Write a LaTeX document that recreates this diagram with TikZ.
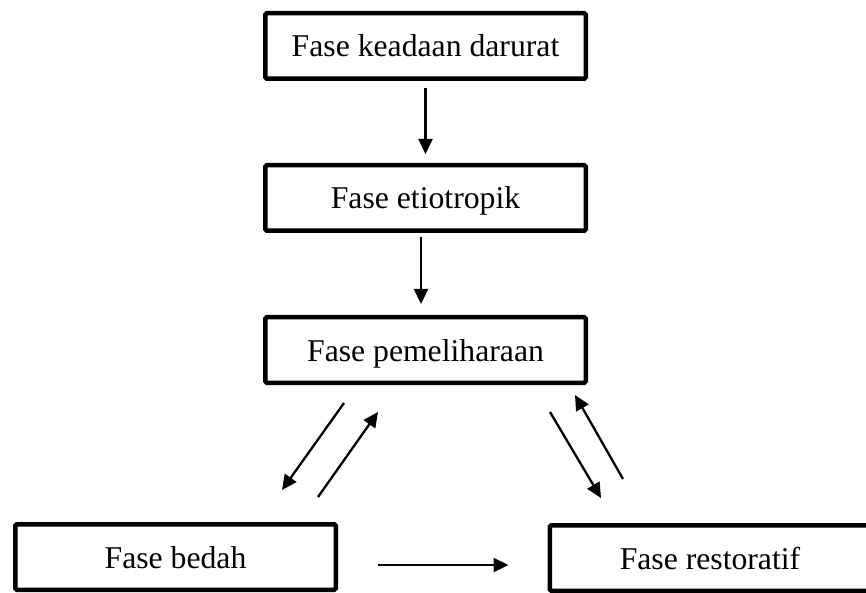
\documentclass[tikz,border=0pt]{standalone}
\usepackage{fontspec}
\setmainfont{Liberation Serif}
\usetikzlibrary{arrows.meta,positioning}

\begin{document}
\begin{tikzpicture}[
  x=1pt, y=1pt,
  node distance=82pt,
  box/.style={rectangle, draw, line width=4.5pt, rounded corners=1.5pt, align=center, minimum width=320.5pt, minimum height=65.5pt, font=\fontsize{31.7}{38}\selectfont, text height=24pt, text depth=2pt},
  arr/.style={-{Triangle[length=15pt,width=14pt]}, line width=2.3pt}
]
\useasboundingbox (0,0) rectangle (866,592);
\clip (0,0) rectangle (866,592);

\node[box] (darurat) at (425.5,546) {Fase keadaan darurat};
\node[box, below=of darurat] (etio) {Fase etiotropik};
\node[box, below=of etio] (pem) {Fase pemeliharaan};
\node[box] (bedah) at (175.5,35) {Fase bedah};
\node[box] (restoratif) at (710,34) {Fase restoratif};

% ends of the paired diagonal arrows
\coordinate (pl1) at (344,189); \coordinate (pl2) at (282,102);
\coordinate (pl3) at (318,95);  \coordinate (pl4) at (378,180);
\coordinate (pr1) at (550,180); \coordinate (pr2) at (601,94);
\coordinate (pr3) at (623,113); \coordinate (pr4) at (575,197);

\draw[arr, shorten <=7pt, shorten >=9pt] (darurat) -- (etio);
\draw[arr, shorten <=4pt, shorten >=11pt] ([xshift=-4.5pt]etio.south) -- ([xshift=-4.5pt]pem.north);
\draw[arr] (pl1) -- (pl2);
\draw[arr] (pl3) -- (pl4);
\draw[arr] (pr1) -- (pr2);
\draw[arr] (pr3) -- (pr4);
\draw[arr, shorten <=40pt, shorten >=39pt] ([yshift=-8pt]bedah.east) -- ([yshift=-7pt]restoratif.west);
\end{tikzpicture}
\end{document}
